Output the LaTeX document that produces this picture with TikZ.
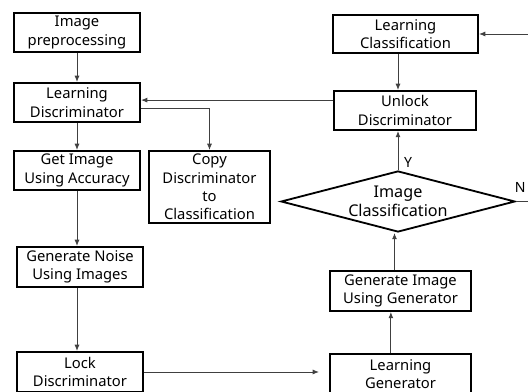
\documentclass[tikz,border=0pt]{standalone}
\usepackage{fontspec}
\setmainfont{Noto Sans}
\usetikzlibrary{arrows.meta,positioning}
\usetikzlibrary{shapes.geometric}
\tikzstyle{procbox}=[rectangle,draw=black,line width=1.3pt,align=center,inner sep=1pt,font=\fontsize{10.5}{13}\selectfont]
\tikzstyle{decision}=[diamond,draw=black,line width=1.3pt,inner sep=0pt]
\tikzstyle{decisiontext}=[align=center,inner sep=0pt,font=\fontsize{11.5}{13.5}\selectfont]
\tikzstyle{edge}=[draw,line width=0.6pt,black!75,-{Latex[length=4.5pt,width=3.5pt]}]
\tikzstyle{flowlabel}=[font=\fontsize{10}{12}\selectfont,text=black]

\begin{document}
\begin{tikzpicture}[x=0.025cm,y=-0.025cm]
    \useasboundingbox (0,0) rectangle (528,392);
    \clip (0,0) rectangle (528,392);
    % left column
    \node[procbox,minimum width=3.15cm,minimum height=0.975cm] (pre) at (77,32.5) {Image\\preprocessing};
    \node[procbox,minimum width=3.15cm,minimum height=0.975cm] (ld) at (77,102.5) {Learning\\Discriminator};
    \node[procbox,minimum width=3.15cm,minimum height=0.975cm] (gia) at (77,170.5) {Get Image\\Using Accuracy};
    \node[procbox,minimum width=3.025cm,minimum height=1.8cm] (copy) at (209.5,187) {Copy\\Discriminator\\to\\Classification};
    \node[procbox,minimum width=3.15cm,minimum height=1cm] (gn) at (80,267) {Generate Noise\\Using Images};
    \node[procbox,minimum width=3.15cm,minimum height=1cm] (lock) at (80,372) {Lock\\Discriminator};

    % right column
    \node[procbox,minimum width=3.625cm,minimum height=0.95cm] (lc) at (405.5,34) {Learning\\Classification};
    \node[procbox,minimum width=3.55cm,minimum height=0.975cm] (ud) at (405,110.5) {Unlock\\Discriminator};
    \node[decision,minimum width=5.85cm,minimum height=1.525cm] (ic) at (398,201.5) {};
    \node[decisiontext] (ictext) at (ic.center) {Image\\Classification};
    \node[procbox,minimum width=3.525cm,minimum height=1cm] (giug) at (400.5,291) {Generate Image\\Using Generator};
    \node[procbox,minimum width=3.525cm,minimum height=1cm] (lg) at (400.5,374) {Learning\\Generator};

    % Connect boxes
    \foreach \source/ \dest in {pre/ld, ld/gia}
        \path[edge] (\source) -- (\dest);
    \path[edge] (gia.south) -- (gia.south |- gn.north);
    \path[edge] (gia.south |- gn.south) -- (gia.south |- lock.north);
    \path[edge] ([yshift=-0.16cm]ld.east) -| (copy.north);
    \path[edge] ([yshift=0.26cm]ud.west) -- ([yshift=0.26cm]ud.west -| ld.east);
    \path[edge] (ic.north |- lc.south) -- (ic.north |- ud.north);
    \path[edge] (ic.north) -- node[flowlabel,pos=0.2,right,inner sep=4pt] {Y} (ic.north |- ud.south);
    \path[edge] ([xshift=-0.15cm]giug.north) -- ([xshift=-0.15cm]giug.north |- ic.south);
    \path[edge] ([xshift=-0.24cm]lg.north) -- ([xshift=-0.24cm]lg.north |- giug.south);
    \path[edge] (lock.east) -- ([xshift=-0.25cm]lock.east -| lg.west);
    \coordinate (loop) at (545,201.5);
    \path[edge] (ic.east) -- node[flowlabel,pos=0.15,above,yshift=3pt] {N} (loop) |- (lc.east);
\end{tikzpicture}
\end{document}
